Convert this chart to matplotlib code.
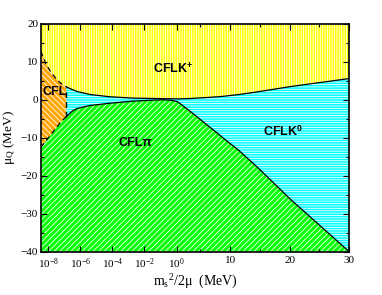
import numpy as np
import matplotlib
matplotlib.use("Agg")
import matplotlib.pyplot as plt

plt.rcParams['font.family'] = 'serif'
plt.rcParams['font.serif'] = ['Liberation Serif', 'DejaVu Serif']
plt.rcParams['mathtext.fontset'] = 'custom'
plt.rcParams['mathtext.rm'] = 'Liberation Serif'
plt.rcParams['mathtext.it'] = 'Liberation Serif:italic'
plt.rcParams['mathtext.bf'] = 'Liberation Sans:bold'
plt.rcParams['hatch.linewidth'] = 0.6

# m_s^2/2mu (MeV), shared grid for both phase boundaries
x_grid = np.array([10**-8.45, 10**-8.14, 10**-7.83, 10**-7.51, 10**-7.2, 10**-6.86,
                   10**-6.5, 10**-6.2, 10**-5.4, 10**-4.15, 10**-2.72, 10**-1.5,
                   10**-0.86, 10**-0.4, 1, 1.5, 2, 3.4, 5, 8, 9, 11.5, 14.6, 20.2, 30])
# upper boundary (CFLK+ lower edge)
mu_upper = np.array([12.8, 9.5, 7.3, 5.6, 4.3, 3.4,
                     2.7, 2.2, 1.4, 0.8, 0.45, 0.35,
                     0.3, 0.28, 0.25, 0.25, 0.27, 0.35, 0.5, 0.8, 0.95, 1.4, 2.1, 3.5, 5.6])
# lower boundary (CFLpi upper edge)
mu_lower = np.array([-12.5, -10.8, -9.2, -7.4, -5.8, -4.4,
                     -3.0, -2.3, -1.5, -0.9, -0.35, -0.1,
                     0.0, -0.1, -0.4, -0.9, -1.5, -3.2, -5.2, -9.0, -10.3, -13.4, -17.8, -26.3, -40.0])
x_cfl = 10**-6.86   # dashed CFL edge

x_ticks = [1e-8, 1e-6, 1e-4, 1e-2, 1, 10, 20, 30]
x_ticklabels = ['$10^{-8}$', '$10^{-6}$', '$10^{-4}$', '$10^{-2}$', '$10^{0}$', '10', '20', '30']
y_ticks = [-40, -30, -20, -10, 0, 10, 20]

K = 2.7  # scale units per decade for the log part


def fwd(x):
    x = np.asarray(x, dtype=float)
    with np.errstate(all='ignore'):
        return np.where(x >= 1, x, 1 + K * np.log10(np.clip(x, 1e-300, None)))


def inv(y):
    y = np.asarray(y, dtype=float)
    with np.errstate(all='ignore'):
        return np.where(y >= 1, y, 10 ** ((np.minimum(y, 1) - 1) / K))


fig = plt.figure(figsize=(3.82, 2.95), dpi=100)
ax = fig.add_axes([0.107, 0.147, 0.807, 0.772])
ax.set_xscale('function', functions=(fwd, inv))

left = x_grid <= x_cfl
right = x_grid >= x_cfl

ax.fill_between(x_grid, mu_upper, 20, facecolor='#ffff00', edgecolor='white',
                hatch='|||||||', linewidth=0)
ax.fill_between(x_grid, -40, mu_lower, facecolor='#00ff00', edgecolor='white',
                hatch='//////', linewidth=0)
ax.fill_between(x_grid, mu_lower, mu_upper, where=left, facecolor='#ffa500',
                edgecolor='white', hatch='\\\\\\\\\\\\', linewidth=0)
ax.fill_between(x_grid, mu_lower, mu_upper, where=right, facecolor='#00ffff',
                edgecolor='white', hatch='-------', linewidth=0)

ax.plot(x_grid[right], mu_upper[right], color='black', lw=0.9)
ax.plot(x_grid[right], mu_lower[right], color='black', lw=0.9)
ax.plot(x_grid[left], mu_upper[left], color='black', lw=0.9, ls=(0, (4, 3)))
ax.plot(x_grid[left], mu_lower[left], color='black', lw=0.9, ls=(0, (4, 3)))
i = np.argmin(np.abs(x_grid - x_cfl))
ax.plot([x_grid[i], x_grid[i]], [mu_lower[i], mu_upper[i]], color='black', lw=1.0, ls=(0, (4, 3)))

ax.set_xlim(10**-8.45, 30)
ax.set_ylim(-40, 20)
ax.set_xticks(x_ticks)
ax.set_xticklabels(x_ticklabels)
ax.set_xticks([5, 15, 25], minor=True)
ax.set_yticks(y_ticks)
ax.set_yticks(np.arange(-35, 20, 10), minor=True)
ax.tick_params(which='both', direction='in', top=True, right=True, labelsize=8, width=0.8)
ax.tick_params(which='major', length=4)
ax.tick_params(which='minor', length=2)
ax.tick_params(axis='y', pad=2)
for s in ax.spines.values():
    s.set_linewidth(1.2)

ax.set_xlabel('m$_{\\rm s}$$^{\\rm 2}$/2μ  (MeV)', fontsize=10, labelpad=1)
ax.set_ylabel('μ$_{\\rm Q}$ (MeV)', fontsize=9.5)
ax.yaxis.set_label_coords(-0.074, 0.5)

lab = dict(family='Liberation Sans', weight='bold', fontsize=9, va='center', ha='left',
           transform=ax.transAxes)
ax.text(0.364, 0.807, 'CFLK$^{\\mathbf{+}}$', **lab)
ax.text(0.004, 0.701, 'CFL', **lab)
ax.text(0.253, 0.477, 'CFLπ', **lab)
ax.text(0.721, 0.525, 'CFLK$^{\\mathbf{0}}$', **lab)

fig.savefig('out.png', dpi=100)
